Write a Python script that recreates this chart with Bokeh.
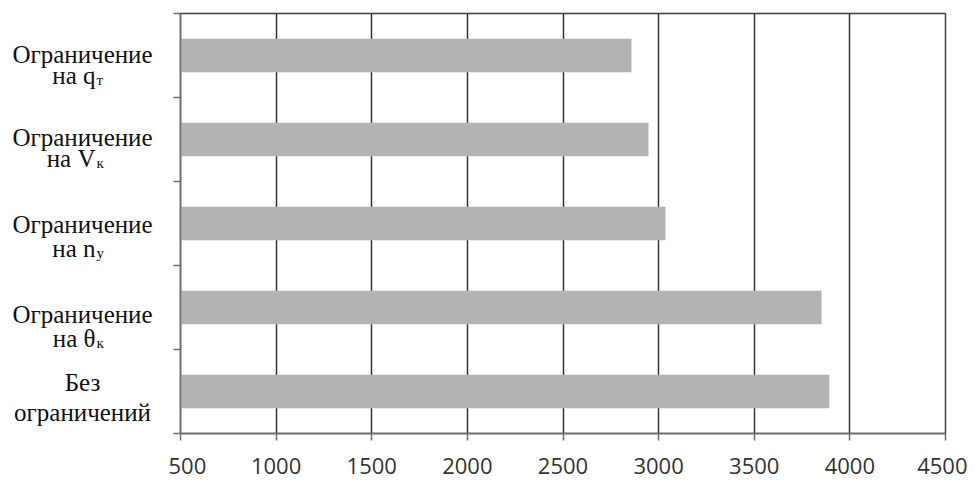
from bokeh.plotting import figure
from bokeh.models import Range1d, FixedTicker
from bokeh.layouts import row
from bokeh.core.properties import value
from bokeh.embed import file_html
from bokeh.resources import INLINE

# ---- data (top to bottom) ----
line1 = ["Ограничение", "Ограничение", "Ограничение", "Ограничение", "Без"]
line2_main = ["на q", "на V", "на n", "на θ", "ограничений"]
line2_sub = ["т", "к", "у", "к", ""]
values = [2858, 2947, 3036, 3852, 3893]
x_ticks = [500, 1000, 1500, 2000, 2500, 3000, 3500, 4000, 4500]

# layout (offsets of label lines from category centre, px, downward)
off1 = [-1, -2, 1, 7, -9]
off2 = [20, 19, 25, 31, 21]

n = len(values)
ypos = [n - 1 - i + 0.5 for i in range(n)]
x0, x1 = x_ticks[0], x_ticks[-1]

H = 488
TOP, BOT = 13, 55
LW = 168

# ---- label panel ----
lab = figure(width=LW, height=H, output_backend="svg", toolbar_location=None,
             x_range=Range1d(0, LW), y_range=Range1d(0, n),
             x_axis_location=None, y_axis_location=None,
             min_border_left=0, min_border_right=0, min_border_top=TOP, min_border_bottom=BOT)
lab.outline_line_color = None
lab.grid.grid_line_color = None

font = value("Liberation Serif")
cx = 82
split = 95
lab.text(x=[cx] * n, y=ypos, text=line1, y_offset=off1,
         text_align="center", text_baseline="alphabetic",
         text_font=font, text_font_size="25px", text_color="#111111")
for i in range(n):
    if line2_sub[i]:
        lab.text(x=[split], y=[ypos[i]], text=[line2_main[i]], y_offset=off2[i],
                 text_align="right", text_baseline="alphabetic",
                 text_font=font, text_font_size="25px", text_color="#111111")
        lab.text(x=[split + 1], y=[ypos[i]], text=[line2_sub[i]], y_offset=off2[i] + 4,
                 text_align="left", text_baseline="alphabetic",
                 text_font=font, text_font_size="15px", text_color="#111111")
    else:
        lab.text(x=[cx], y=[ypos[i]], text=[line2_main[i]], y_offset=off2[i],
                 text_align="center", text_baseline="alphabetic",
                 text_font=font, text_font_size="25px", text_color="#111111")

# ---- main chart ----
p = figure(width=12 + 765 + 22, height=H, output_backend="svg", toolbar_location=None,
           x_range=Range1d(x0, x1), y_range=Range1d(0, n),
           min_border_left=12, min_border_right=22, min_border_top=TOP, min_border_bottom=BOT)

p.hbar(y=ypos, right=values, left=x0, height=0.4, color="#b3b3b3", line_color=None)

p.outline_line_color = "#404040"
p.outline_line_width = 1.5

p.xaxis.ticker = FixedTicker(ticks=x_ticks)
p.xaxis.axis_line_color = "#6e6e6e"
p.xaxis.axis_line_width = 1.5
p.xaxis.major_tick_line_color = "#6e6e6e"
p.xaxis.major_tick_line_width = 1.5
p.xaxis.major_tick_in = 0
p.xaxis.major_tick_out = 7
p.xaxis.minor_tick_line_color = None
p.xaxis.major_label_text_font = "Open Sans"
p.xaxis.major_label_text_font_size = "22px"
p.xaxis.major_label_text_color = "#333333"
p.xaxis.major_label_standoff = 17

p.yaxis.ticker = FixedTicker(ticks=list(range(n + 1)))
p.yaxis.axis_line_color = "#6e6e6e"
p.yaxis.axis_line_width = 1.5
p.yaxis.major_tick_line_color = "#6e6e6e"
p.yaxis.major_tick_line_width = 1.5
p.yaxis.major_tick_in = 0
p.yaxis.major_tick_out = 7
p.yaxis.minor_tick_line_color = None
p.yaxis.major_label_text_font_size = "0px"
p.yaxis.major_label_standoff = 0

p.xgrid.ticker = FixedTicker(ticks=x_ticks)
p.xgrid.grid_line_color = "#333333"
p.xgrid.grid_line_width = 1.5
p.ygrid.grid_line_color = None

layout = row(lab, p, spacing=0)
open("out.html", "w").write(file_html(layout, INLINE))
